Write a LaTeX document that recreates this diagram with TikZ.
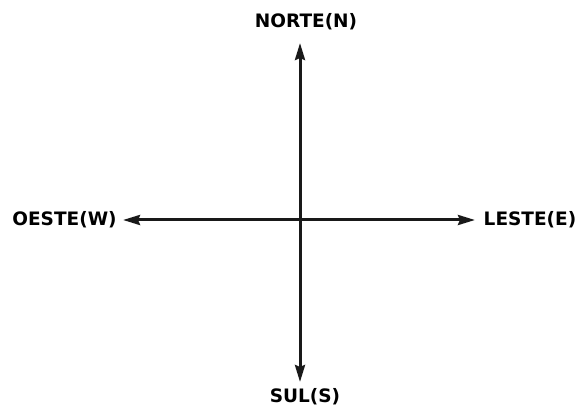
\documentclass[tikz,border=0pt]{standalone}
\usepackage{fontspec}
\setmainfont{DejaVu Sans}
\usetikzlibrary{arrows.meta}
\tikzset{
    eixo/.style={line width=3pt, gray!20!black, {Stealth[length=17pt,width=10pt,inset=2pt]}-{Stealth[length=17pt,width=10pt,inset=2pt]}},
    rotulo/.style={font=\fontsize{18.5}{20}\selectfont\bfseries, text=black, inner sep=0pt}
}
\begin{document}
\begin{tikzpicture}[x=1pt,y=1pt]
            \useasboundingbox (0,0) rectangle (578,407);
            \coordinate (O) at (300,187);
            \coordinate (N) at (300,364);
            \coordinate (S) at (300,25);
            \coordinate (W) at (123,187);
            \coordinate (E) at (475,187);
            
            \node[rotulo] (norte) at (306,385) {NORTE(N)};
            \node[rotulo] (sul) at (305,10) {SUL(S)};
            \node[rotulo] (oeste) at (64.5,187) {OESTE(W)};
            \node[rotulo] (leste) at (530,187) {LESTE(E)};
            
            % eixos
            \draw[eixo] (S) -- (N);
            \draw[eixo] (W) -- (E);
        \end{tikzpicture}
\end{document}
